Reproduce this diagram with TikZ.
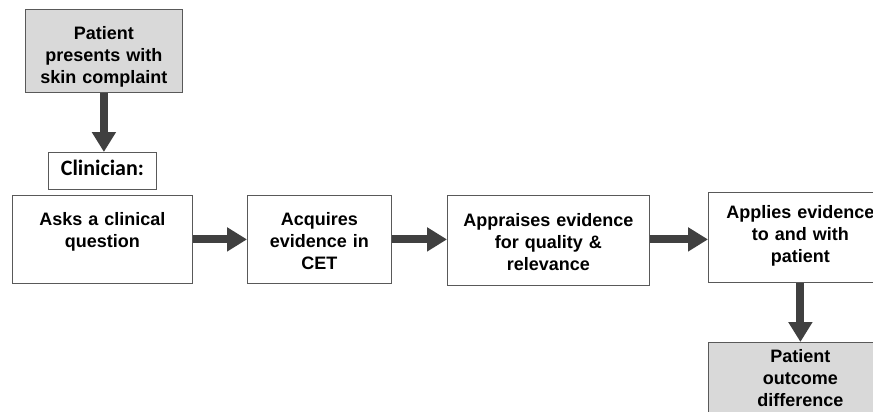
\documentclass[tikz,border=0pt]{standalone}
\usepackage{fontspec}
\setmainfont{Liberation Sans}
\setsansfont{Liberation Sans}
\newfontfamily\calibrifont{Carlito}
\usetikzlibrary{arrows.meta}

\definecolor{boxline}{HTML}{595959}
\definecolor{boxfill}{HTML}{D9D9D9}
\definecolor{arrowgray}{HTML}{404040}

\tikzset{
  stepbox/.style={draw=boxline, line width=0.8pt, fill=white, align=center,
    inner xsep=0pt, inner ysep=4pt, anchor=north west,
    font=\fontsize{18}{22}\selectfont\bfseries},
  endbox/.style={stepbox, fill=boxfill},
  flow/.style={draw=arrowgray, line width=8pt,
    -{Triangle[width=23pt,length=20pt]}}
}

\begin{document}
\begin{tikzpicture}[x=1pt,y=-1pt]
  \clip (0,0) rectangle (873,412);
  % Nodes
  \node[endbox, text width=157pt, text height=26pt, text depth=49pt] (patient) at (25,9)
    {Patient\\presents with\\skin complaint};
  \node[stepbox, text width=108pt, text height=19pt, text depth=10pt,
    font=\fontsize{22}{24}\selectfont\calibrifont\bfseries] (clinician) at (48,152) {Clinician:};
  \node[stepbox, text width=180pt, text height=26pt, text depth=54pt] (ask) at (12,195)
    {Asks a clinical\\question};
  \node[stepbox, text width=144pt, text height=26pt, text depth=54pt] (acquire) at (247,195)
    {Acquires\\evidence in\\CET};
  \node[stepbox, text width=202pt, text height=27pt, text depth=55pt] (appraise) at (447,195)
    {Appraises evidence\\for quality \&\\relevance};
  \node[stepbox, text width=184pt, text height=22pt, text depth=60pt] (apply) at (708,192)
    {Applies evidence\\to and with\\patient};
  \node[endbox, text width=184pt, text height=16pt, text depth=70pt] (outcome) at (708,342)
    {Patient\\outcome\\difference};

  % Arrows
  \draw[flow] (patient.south) -- (patient.south |- clinician.north);
  \draw[flow] (ask.east) -- (ask.east -| acquire.west);
  \draw[flow] (acquire.east) -- (acquire.east -| appraise.west);
  \draw[flow] (appraise.east |- acquire.east) -- (acquire.east -| apply.west);
  \draw[flow] (apply.south) -- (outcome.north);
\end{tikzpicture}
\end{document}
